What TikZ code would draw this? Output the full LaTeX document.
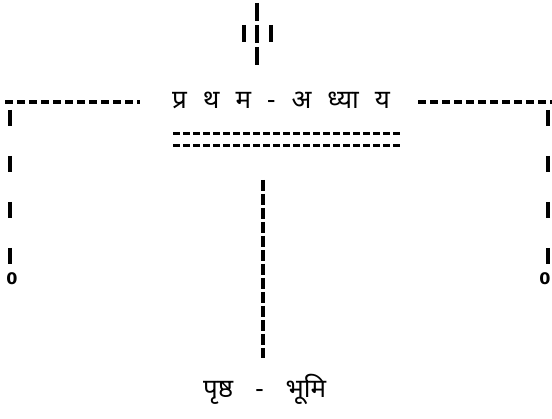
\documentclass[tikz,border=0pt]{standalone}
\usepackage{fontspec}
\newfontfamily\deva[Script=Devanagari]{Noto Sans}
\newfontfamily\numfont{DejaVu Sans}
\begin{document}
\begin{tikzpicture}[x=1pt,y=-1pt,
  hdash/.style={line width=3.2pt, dash pattern=on 8pt off 4pt},
  uline/.style={line width=3pt, dash pattern=on 7pt off 3pt},
  vtick/.style={line width=3.2pt, dash pattern=on 16pt off 30pt},
  vline/.style={line width=3.2pt, dash pattern=on 11pt off 3pt},
  topline/.style={line width=3.2pt, dash pattern=on 18pt off 4pt},
  devtext/.style={inner sep=0pt, font=\deva\fontsize{26}{30}\selectfont},
  zero/.style={inner sep=0pt, font=\numfont\bfseries\fontsize{16}{18}\selectfont}]
\clip (0,0) rectangle (552,419);
\useasboundingbox (0,0) rectangle (552,419);
% top marks
\coordinate (t0) at (257,3);
\coordinate (t1) at (257,65);
\coordinate (ta) at (244,25);
\coordinate (tb) at (244,42);
\coordinate (tc) at (271,25);
\coordinate (td) at (271,42);
\draw[topline] (t0) -- (t1);
\draw[line width=3.2pt] (ta) -- (tb);
\draw[line width=3.2pt] (tc) -- (td);
% heading
\node[devtext, anchor=base west] (head) at (172,109) {{\spaceskip=16pt प्र थ म - अ ध्या य}};
% side dashed lines
\coordinate (l0) at (5,102);
\coordinate (l1) at (140,102);
\coordinate (r0) at (418,102);
\coordinate (r1) at (552,102);
\draw[hdash] (l0) -- (l1);
\draw[hdash] (r0) -- (r1);
% side columns
\coordinate (lc0) at (10,110);
\coordinate (lc1) at (10,266);
\coordinate (rc0) at (548,110);
\coordinate (rc1) at (548,266);
\draw[vtick] (lc0) -- (lc1);
\draw[vtick] (rc0) -- (rc1);
\node[zero] (lz) at (12,279) {0};
\node[zero] (rz) at (545,279) {0};
% double underline
\coordinate (u0) at (173,134);
\coordinate (u1) at (402,134);
\coordinate (u2) at (173,146);
\coordinate (u3) at (402,146);
\draw[uline] (u0) -- (u1);
\draw[uline] (u2) -- (u3);
% center line and foot
\coordinate (c0) at (263,180);
\coordinate (c1) at (263,358);
\draw[vline] (c0) -- (c1);
\node[devtext, anchor=base west] (foot) at (203,398) {{\spaceskip=22pt पृष्ठ - भूमि}};
\end{tikzpicture}
\end{document}
